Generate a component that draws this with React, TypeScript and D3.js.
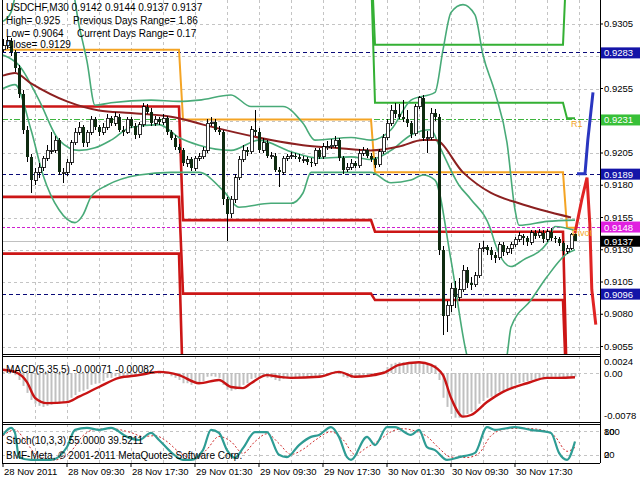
import React from 'react'
import { scaleLinear, line, curveMonotoneX } from 'd3'

// prices in pips (0.0001), one entry per M30 bar
const firstOpen = 9285
const closes = [
  9288, 9292, 9283, 9271, 9251, 9223, 9202, 9184, 9190, 9194, 9201, 9207, 9207, 9215, 9190,
  9190, 9198, 9213, 9221, 9225, 9213, 9221, 9231, 9225, 9221, 9225, 9232, 9228, 9233, 9223,
  9221, 9231, 9226, 9219, 9227, 9241, 9237, 9228, 9231, 9229, 9232, 9221, 9217, 9210, 9207,
  9197, 9200, 9193, 9201, 9202, 9207, 9228, 9229, 9223, 9221, 9169, 9158, 9169, 9186, 9200,
  9207, 9206, 9223, 9221, 9207, 9213, 9203, 9203, 9192, 9190, 9201, 9202, 9203, 9202, 9200,
  9200, 9198, 9197, 9207, 9202, 9210, 9210, 9211, 9215, 9201, 9192, 9194, 9197, 9195, 9205,
  9207, 9203, 9200,
  9196, 9206, 9217, 9228, 9238, 9235, 9233, 9231, 9228, 9220, 9241, 9248, 9217, 9217, 9236,
  9233, 9130, 9079, 9087, 9100, 9093, 9099, 9114, 9104, 9103, 9110, 9131, 9132, 9130, 9126,
  9124, 9134, 9128, 9131, 9134, 9138, 9141, 9139, 9136, 9143, 9141, 9143, 9138, 9144, 9139,
  9138, 9135, 9129,
  9131, 9142, 9137,
]
const highs = [
  9293, 9296, 9294, 9285, 9273, 9254, 9226, 9204, 9193, 9197, 9203, 9211, 9221, 9218, 9217,
  9193, 9200, 9215, 9224, 9229, 9227, 9223, 9234, 9233, 9227, 9228, 9235, 9234, 9237, 9235,
  9226, 9233, 9233, 9228, 9229, 9244, 9243, 9240, 9234, 9233, 9235, 9234, 9223, 9219, 9212,
  9209, 9203, 9202, 9203, 9205, 9210, 9231, 9233, 9231, 9226, 9223, 9171, 9172, 9189, 9203,
  9211, 9210, 9226, 9238, 9224, 9217, 9215, 9206, 9205, 9194, 9203, 9204, 9206, 9205, 9204,
  9203, 9202, 9201, 9209, 9209, 9213, 9214, 9216, 9218, 9217, 9203, 9197, 9200, 9199, 9208,
  9210, 9209, 9205,
  9202, 9208, 9220, 9231, 9242, 9244, 9243, 9246, 9238, 9230, 9243, 9249, 9250, 9222, 9240,
  9239, 9235, 9133, 9090, 9104, 9106, 9108, 9118, 9117, 9109, 9113, 9135, 9137, 9134, 9132,
  9128, 9136, 9136, 9133, 9136, 9140, 9144, 9142, 9141, 9145, 9145, 9146, 9145, 9146, 9147,
  9141, 9140, 9137,
  9134, 9143, 9144,
]
const lows = [
  9283, 9286, 9280, 9268, 9248, 9220, 9198, 9174, 9180, 9186, 9191, 9199, 9204, 9205, 9188,
  9182, 9187, 9196, 9211, 9219, 9210, 9210, 9219, 9223, 9218, 9219, 9223, 9226, 9226, 9221,
  9218, 9220, 9224, 9216, 9217, 9225, 9235, 9226, 9226, 9227, 9227, 9219, 9215, 9207, 9205,
  9195, 9194, 9191, 9191, 9199, 9200, 9205, 9226, 9221, 9219, 9165, 9137, 9155, 9166, 9184,
  9198, 9203, 9204, 9218, 9205, 9205, 9201, 9200, 9190, 9179, 9188, 9199, 9200, 9200, 9198,
  9197, 9196, 9194, 9195, 9200, 9200, 9207, 9208, 9209, 9199, 9189, 9190, 9192, 9193, 9193,
  9203, 9201, 9198,
  9193, 9194, 9204, 9215, 9226, 9232, 9231, 9229, 9225, 9217, 9218, 9239, 9214, 9205, 9215,
  9230, 9126, 9064, 9066, 9082, 9085, 9090, 9097, 9100, 9099, 9101, 9108, 9128, 9126, 9122,
  9120, 9122, 9125, 9126, 9127, 9132, 9136, 9134, 9133, 9134, 9138, 9139, 9135, 9136, 9137,
  9135, 9133, 9126,
  9127, 9130, 9137,
]

// daily pivot levels (pips), day = 28, 29, 30 Nov, 1 Dec
const dayStarts = [0, 45, 93, 141]
const dayEnds = [44, 92, 140, 143]
const pivotLvl = [9285, 9231, 9190, 9147]
const r1Lvl = [9345, 9345, 9244, 9232]
const r2Lvl = [9360, 9360, 9289, 9360]
const s1Lvl = [9241, 9153, 9144, 9020]
const s2Lvl = [9171, 9096, 9091, 9010]
const s3Lvl = [9127, 9020, 9020, 9000]

// Bollinger bands and moving average, [bar, pips]
const bbUpper = [[0, 9307], [2, 9314], [4, 9335], [17, 9335], [19, 9304], [21, 9276], [23, 9242], [27, 9244], [37, 9246], [44, 9245], [49, 9246], [57, 9250], [62, 9241], [70, 9241], [75, 9228], [78, 9215], [87, 9217], [92, 9215], [97, 9223], [102, 9246], [108, 9252], [110, 9285], [112, 9314], [115, 9320], [118, 9312], [120, 9281], [123, 9252], [126, 9213], [128, 9161], [129, 9149], [136, 9152], [143, 9153]]
const bbMiddle = [[0, 9281], [4, 9273], [9, 9246], [14, 9215], [19, 9207], [23, 9209], [27, 9215], [32, 9225], [39, 9227], [44, 9217], [49, 9211], [57, 9207], [64, 9215], [72, 9206], [79, 9201], [87, 9202], [92, 9200], [97, 9207], [102, 9219], [107, 9223], [109, 9211], [114, 9180], [117, 9169], [122, 9145], [123, 9135], [127, 9117], [130, 9122], [136, 9135], [138, 9148], [143, 9145]]
const bbLower = [[0, 9255], [3, 9258], [7, 9223], [10, 9188], [14, 9161], [18, 9151], [20, 9157], [22, 9171], [26, 9180], [34, 9188], [42, 9190], [49, 9190], [55, 9176], [59, 9163], [67, 9166], [72, 9166], [75, 9174], [77, 9190], [92, 9190], [97, 9182], [102, 9184], [105, 9188], [108, 9184], [112, 9122], [116, 9048], [122, 9014], [126, 9048], [127, 9070], [132, 9091], [136, 9109], [141, 9127], [143, 9130]]
const maLine = [[0, 9265], [3, 9267], [7, 9259], [16, 9245], [24, 9238], [32, 9236], [44, 9232], [50, 9227], [58, 9221], [67, 9215], [75, 9211], [83, 9209], [92, 9207], [99, 9210], [105, 9215], [108, 9215], [115, 9190], [122, 9174], [129, 9166], [142, 9155]]

// forecast arrows past the last bar
const forecastBlue = [[143.5, 9189], [145.5, 9189], [146.2, 9215], [147.5, 9252]]
const forecastRed = [[143, 9143], [144.7, 9169], [146, 9186], [146.7, 9150], [147.2, 9099], [148.2, 9072]]

// MACD(5,35,5), units of 0.0001
const macdHist = [
  2, 2, 0, -4, -13, -24, -37, -50, -57, -61, -63, -61, -59, -56, -57, -55, -52, -46, -41, -35,
  -33, -30, -22, -20, -19, -15, -9, -9, -6, -7, -7, -4, -4, -6, -4, 4, 6, 4, 4, 2,
  2, -2, -6, -9, -13, -19, -19, -22, -20, -19, -15, -7, -6, -7, -9, -22, -31, -33, -31, -28,
  -22, -19, -11, -9, -9, -7, -9, -9, -13, -15, -11, -9, -9, -9, -9, -9, -9, -9, -6, -6,
  -2, 0, 2, 4, -2, -7, -9, -9, -9, -6, -4, -4, -6, -6, -2, 4, 11, 17, 19, 20,
  20, 20, 19, 20, 22, 19, 17, 17, 15, -13, -46, -63, -76, -83, -83, -80, -76, -72, -69, -57,
  -52, -46, -44, -41, -35, -33, -30, -26, -22, -19, -17, -15, -13, -11, -11, -9, -9, -7, -7, -9,
  -9, -9, -7, -7,
]
const macdSignal = [[0, 6], [3, 2], [6, -17], [8, -46], [11, -56], [16, -54], [19, -44], [24, -26], [29, -9], [34, -4], [39, 2], [44, -4], [49, -19], [54, -13], [57, -26], [60, -28], [62, -19], [66, -4], [69, -7], [72, -9], [79, -7], [84, 2], [88, -7], [95, 0], [99, 15], [104, 20], [107, 15], [110, -4], [112, -46], [115, -81], [117, -78], [121, -54], [125, -35], [131, -19], [136, -9], [139, -9], [143, -8]]

// Stochastic(10,3,3)
const stochMain = [[0, 72], [2, 90], [3, 77], [4, 15], [7, 8], [12, 8], [16, 41], [18, 85], [21, 90], [24, 85], [27, 90], [31, 67], [34, 59], [37, 77], [39, 59], [42, 28], [45, 8], [47, 8], [50, 33], [52, 85], [54, 77], [56, 33], [58, 13], [60, 38], [63, 79], [66, 79], [69, 21], [71, 15], [74, 46], [77, 67], [79, 72], [82, 92], [84, 67], [86, 15], [87, 8], [91, 67], [93, 46], [96, 92], [98, 92], [102, 72], [104, 85], [106, 41], [108, 33], [111, 8], [114, 15], [118, 26], [121, 92], [123, 85], [128, 92], [132, 85], [137, 77], [139, 26], [141, 8], [143, 55]]
const stochSignal = [[0, 70], [3, 85], [6, 50], [9, 15], [13, 8], [17, 30], [20, 70], [23, 86], [27, 88], [32, 78], [35, 68], [38, 70], [41, 55], [44, 28], [48, 10], [51, 35], [54, 68], [57, 55], [60, 25], [63, 55], [66, 75], [69, 50], [72, 22], [75, 35], [78, 58], [82, 80], [85, 60], [88, 22], [91, 40], [94, 58], [97, 80], [100, 88], [103, 82], [106, 68], [109, 38], [112, 15], [116, 14], [119, 25], [122, 70], [126, 88], [130, 89], [134, 86], [138, 68], [141, 30], [143, 40]]

// labelled price ticks (0.9280 and 0.9230 sit under the level boxes)
const priceTicks = [9305, 9280, 9255, 9230, 9205, 9180, 9155, 9130, 9105, 9080, 9055]
const hiddenTicks = [9280, 9230]
const timeLabels = ['28 Nov 2011', '28 Nov 09:30', '28 Nov 17:30', '29 Nov 01:30', '29 Nov 09:30', '29 Nov 17:30', '30 Nov 01:30', '30 Nov 09:30', '30 Nov 17:30']
const timeBars = [0, 16, 32, 48, 64, 80, 96, 112, 128]

const levelLines = [
  { p: 9283, color: '#0a0a78', box: '#1414a8', dash: '4,3' },
  { p: 9231, color: '#3cb43c', box: '#38c038', dash: '6,2,2,2' },
  { p: 9189, color: '#0a0a78', box: '#1414a8', dash: '4,3' },
  { p: 9148, color: '#d020d0', box: '#e020e0', dash: '3,2' },
  { p: 9137, color: '#c0c0c0', box: '#000000', dash: '' },
  { p: 9096, color: '#0a0a78', box: '#1414a8', dash: '4,3' },
]

const FONT = 'Liberation Sans, Arial, sans-serif'

export default function App() {
  const L = 2
  const R = 600
  const mainBot = 354
  const macdTop = 356
  const macdBot = 422
  const stTop = 424
  const stBot = 463

  const x = scaleLinear().domain([0, 143]).range([3, 575])
  const y = scaleLinear().domain([9049.2, 9323.6]).range([354, 0])
  const yM = scaleLinear().domain([-78, 0]).range([415, 373])
  const yS = scaleLinear().domain([0, 100]).range([stBot, stTop])

  const opens = closes.map((_, i) => (i === 0 ? firstOpen : closes[i - 1]))

  const priceLine = line<number[]>()
    .x((d) => x(d[0]))
    .y((d) => y(d[1]))
    .curve(curveMonotoneX)
  const straightPrice = line<number[]>()
    .x((d) => x(d[0]))
    .y((d) => y(d[1]))
  const macdLine = line<number[]>()
    .x((d) => x(d[0]))
    .y((d) => yM(d[1]))
    .curve(curveMonotoneX)
  const stochLine = line<number[]>()
    .x((d) => x(d[0]))
    .y((d) => yS(d[1]))
    .curve(curveMonotoneX)

  function steps(lvls: number[]) {
    const pts: number[][] = []
    lvls.forEach((v, d) => {
      pts.push([dayStarts[d], v])
      pts.push([dayEnds[d], v])
    })
    return straightPrice(pts) || ''
  }

  const gridBars: number[] = []
  for (let i = 8; i <= 144; i += 8) gridBars.push(i)

  const fmt = (p: number) => (p / 10000).toFixed(4)

  return (
    <svg
      width={640}
      height={480}
      style={{ position: 'absolute', left: 0, top: 0, background: '#fff' }}
      fontFamily={FONT}
    >
      <defs>
        <clipPath id="clipMain">
          <rect x={L} y={0} width={R - L} height={mainBot} />
        </clipPath>
        <clipPath id="clipMacd">
          <rect x={L} y={macdTop} width={R - L} height={macdBot - macdTop} />
        </clipPath>
        <clipPath id="clipSt">
          <rect x={L} y={stTop} width={R - L} height={stBot - stTop} />
        </clipPath>
      </defs>
      <rect width={640} height={480} fill="#fff" />

      {/* grids */}
      <g stroke="#c4c4c4" strokeWidth={1} strokeDasharray="3,3" shapeRendering="crispEdges">
        {gridBars.map((i) => (
          <g key={'vg' + i}>
            <line x1={x(i)} x2={x(i)} y1={0} y2={mainBot} />
            <line x1={x(i)} x2={x(i)} y1={macdTop} y2={macdBot} />
            <line x1={x(i)} x2={x(i)} y1={stTop} y2={stBot} />
          </g>
        ))}
        {priceTicks.map((p) => (
          <line key={'hg' + p} x1={L} x2={R} y1={Math.round(y(p)) + 0.5} y2={Math.round(y(p)) + 0.5} />
        ))}
        <line x1={L} x2={R} y1={yM(0)} y2={yM(0)} />
        <line x1={L} x2={R} y1={yS(80)} y2={yS(80)} />
        <line x1={L} x2={R} y1={yS(20)} y2={yS(20)} />
      </g>

      {/* main panel */}
      <g clipPath="url(#clipMain)">
        {levelLines.map((l) => (
          <line
            key={'lv' + l.p}
            x1={L}
            x2={R}
            y1={Math.round(y(l.p)) + 0.5}
            y2={Math.round(y(l.p)) + 0.5}
            stroke={l.color}
            strokeWidth={1}
            strokeDasharray={l.dash}
          />
        ))}
        <path d={steps(r2Lvl)} fill="none" stroke="#34b034" strokeWidth={2} />
        <path d={steps(r1Lvl)} fill="none" stroke="#34b034" strokeWidth={2} />
        <path d={steps(pivotLvl)} fill="none" stroke="#f4a424" strokeWidth={2} />
        <path d={steps(s1Lvl)} fill="none" stroke="#cc1616" strokeWidth={2.6} />
        <path d={steps(s2Lvl)} fill="none" stroke="#cc1616" strokeWidth={2.6} />
        <path d={steps(s3Lvl)} fill="none" stroke="#cc1616" strokeWidth={2.6} />

        <path d={priceLine(bbUpper) || ''} fill="none" stroke="#48aa78" strokeWidth={1.6} />
        <path d={priceLine(bbMiddle) || ''} fill="none" stroke="#48aa78" strokeWidth={1.6} />
        <path d={priceLine(bbLower) || ''} fill="none" stroke="#48aa78" strokeWidth={1.6} />
        <path d={priceLine(maLine) || ''} fill="none" stroke="#8c2020" strokeWidth={2} />

        {closes.map((c, i) => {
          const o = opens[i]
          const cx = Math.round(x(i))
          const top = y(Math.max(o, c))
          const bot = y(Math.min(o, c))
          const up = c >= o
          return (
            <g key={'c' + i} shapeRendering="crispEdges">
              <line x1={cx + 0.5} x2={cx + 0.5} y1={y(highs[i])} y2={y(lows[i])} stroke="#000" strokeWidth={1} />
              <rect
                x={cx - 1}
                y={top}
                width={3}
                height={Math.max(1, bot - top)}
                fill={up ? '#fff' : '#0e2a10'}
                stroke="#000"
                strokeWidth={up ? 0.8 : 0}
              />
            </g>
          )
        })}

        <path d={straightPrice(forecastBlue) || ''} fill="none" stroke="#2a36c0" strokeWidth={3} />
        <path d={straightPrice(forecastRed) || ''} fill="none" stroke="#e02424" strokeWidth={3} />

        <text x={571} y={y(9232) + 9} fontSize={9} fill="#f4a424">R1</text>
        <text x={572} y={y(9147) + 8} fontSize={9} fill="#f4a424">Pivot</text>

        <g fontSize={10} fill="#000">
          <text x={6} y={11}>USDCHF,M30  0.9142 0.9144 0.9137 0.9137</text>
          <text x={6} y={24}>High= 0.925</text>
          <text x={73} y={24}>Previous Days Range= 1.86</text>
          <text x={6} y={37}>Low= 0.9064</text>
          <text x={77} y={37}>Current Days Range= 0.17</text>
          <text x={6} y={48}>Close= 0.9129</text>
        </g>
      </g>

      {/* MACD panel */}
      <g clipPath="url(#clipMacd)">
        {macdHist.map((v, i) => (
          <line
            key={'h' + i}
            x1={Math.round(x(i)) + 0.5}
            x2={Math.round(x(i)) + 0.5}
            y1={yM(0)}
            y2={yM(v)}
            stroke="#c0c0c0"
            strokeWidth={2}
          />
        ))}
        <path d={macdLine(macdSignal) || ''} fill="none" stroke="#c81414" strokeWidth={2.4} />
        <text x={6} y={373} fontSize={10} fill="#000">MACD(5,35,5) -0.00071 -0.00082</text>
      </g>

      {/* Stochastic panel */}
      <g clipPath="url(#clipSt)">
        <path d={stochLine(stochSignal) || ''} fill="none" stroke="#d03030" strokeWidth={1} strokeDasharray="2,2" />
        <path d={stochLine(stochMain) || ''} fill="none" stroke="#2e9c94" strokeWidth={2.2} />
        <text x={6} y={444} fontSize={10} fill="#000">Stoch(10,3,3) 55.0000 39.5211</text>
        <text x={6} y={459} fontSize={10} fill="#000">BMF-Meta, © 2001-2011 MetaQuotes Software Corp.</text>
      </g>

      {/* frames */}
      <g fill="none" stroke="#000" strokeWidth={1} shapeRendering="crispEdges">
        <line x1={L} x2={L} y1={0} y2={stBot} />
        <line x1={R} x2={R} y1={0} y2={stBot} />
        <line x1={L} x2={R} y1={mainBot} y2={mainBot} />
        <line x1={L} x2={R} y1={macdTop} y2={macdTop} />
        <line x1={L} x2={R} y1={macdBot} y2={macdBot} />
        <line x1={L} x2={R} y1={stTop} y2={stTop} />
        <line x1={L} x2={R} y1={stBot} y2={stBot} />
      </g>

      {/* right price axis */}
      <g fontSize={9.5} fill="#000">
        {priceTicks.map((p) => (
          <g key={'pt' + p}>
            <line x1={R} x2={R + 3} y1={y(p)} y2={y(p)} stroke="#000" />
            {hiddenTicks.includes(p) ? null : <text x={604} y={y(p) + 3}>{fmt(p)}</text>}
          </g>
        ))}
        {levelLines.map((l) => (
          <g key={'bx' + l.p}>
            <rect x={601} y={y(l.p) - 5} width={39} height={11} fill={l.box} />
            <text x={604} y={y(l.p) + 4} fill="#fff">{fmt(l.p)}</text>
          </g>
        ))}
        <text x={604} y={365}>0.0024</text>
        <text x={604} y={377}>0.00</text>
        <text x={604} y={419}>-0.0078</text>
        <text x={604} y={435}>100</text>
        <text x={604} y={435}>80</text>
        <text x={604} y={458}>20</text>
        <text x={604} y={458}>0</text>
      </g>

      {/* time axis */}
      <g fontSize={9.5} fill="#000">
        {timeBars.map((b, k) => (
          <g key={'tl' + b}>
            <line x1={x(b)} x2={x(b)} y1={stBot} y2={stBot + 4} stroke="#000" />
            <text x={x(b) + 1} y={475}>{timeLabels[k]}</text>
          </g>
        ))}
      </g>
    </svg>
  )
}
